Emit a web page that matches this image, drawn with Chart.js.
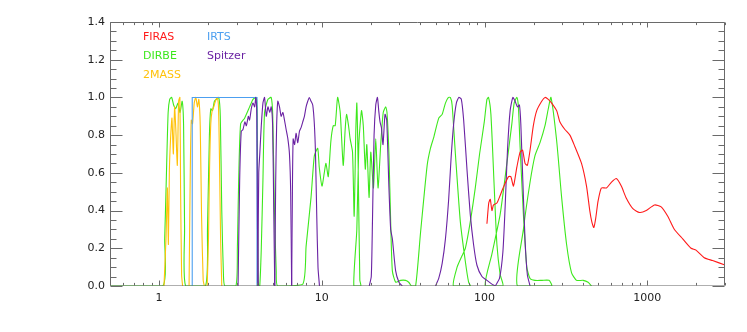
<!DOCTYPE html>
<html>
<head>
<meta charset="utf-8">
<script src="https://cdn.jsdelivr.net/npm/chart.js@4.4.1/dist/chart.umd.min.js"></script>
<style>
  html, body { margin: 0; padding: 0; background: #fff; }
  #c { display: block; }
</style>
</head>
<body>
<canvas id="c" width="747" height="332"></canvas>
<script>
// wavelength (micron) vs relative transmission

const firas = [
    [103.4, 0.33], [106.1, 0.44], [108.4, 0.46], [111.0, 0.40], [113.5, 0.43], [119.1, 0.44],
    [124.7, 0.48], [130.0, 0.52], [140.3, 0.58], [145.0, 0.58], [150.5, 0.53], [157.9, 0.63],
    [165.3, 0.71], [171.2, 0.72], [177.4, 0.65], [183.2, 0.64], [190.3, 0.72], [199.4, 0.85],
    [209.2, 0.93], [224.4, 0.98], [235.1, 1.0], [246.3, 0.99], [258.4, 0.97], [277.3, 0.93],
    [290.4, 0.87], [311.6, 0.83], [334.4, 0.80], [358.6, 0.74], [394.2, 0.65], [423, 0.53],
    [443, 0.40], [456, 0.34], [469, 0.31], [482, 0.36], [498, 0.45], [522, 0.52], [561, 0.52],
    [601, 0.55], [645, 0.57], [692, 0.53], [743, 0.465], [815, 0.41], [896, 0.39], [985, 0.40],
    [1107, 0.43], [1216, 0.42], [1335, 0.37], [1467, 0.30], [1649, 0.25], [1856, 0.20],
    [1991, 0.19], [2238, 0.15], [2516, 0.135], [2967, 0.113], [3000, 0.112]
];

const irts = [[1.6, 0], [1.6, 1.0], [4.0, 1.0], [4.0, 0]];

const tmassJ = [
    [1.073, 0], [1.104, 0.25], [1.126, 0.52], [1.142, 0.22], [1.158, 0.61], [1.179, 0.79],
    [1.201, 0.89], [1.225, 0.70], [1.247, 0.95], [1.27, 0.82], [1.296, 0.64], [1.32, 0.98],
    [1.344, 1.0], [1.357, 0.52], [1.377, 0.06], [1.396, 0]
];
const tmassH = [
    [1.53, 0], [1.556, 0.6], [1.578, 0.88], [1.607, 0.86], [1.646, 0.97], [1.683, 1.0],
    [1.723, 0.95], [1.757, 0.99], [1.792, 0.85], [1.825, 0.38], [1.868, 0.03], [1.90, 0]
];
const tmassK = [
    [1.977, 0], [2.014, 0.25], [2.043, 0.61], [2.08, 0.86], [2.12, 0.93], [2.17, 0.95],
    [2.22, 0.98], [2.275, 1.0], [2.32, 0.95], [2.35, 0.70], [2.39, 0.25], [2.43, 0]
];

const dirbe1 = [
    [1.054, 0], [1.084, 0.25], [1.115, 0.65], [1.138, 0.92], [1.163, 0.99], [1.196, 1.0],
    [1.23, 0.96], [1.265, 0.94], [1.31, 0.97], [1.347, 0.92], [1.387, 0.98], [1.416, 0.85],
    [1.436, 0.3], [1.457, 0]
];
const dirbe2 = [
    [1.93, 0], [1.985, 0.3], [2.04, 0.8], [2.08, 0.94], [2.13, 0.93], [2.19, 0.98],
    [2.25, 0.99], [2.33, 1.0], [2.38, 0.9], [2.43, 0.4], [2.49, 0.05], [2.54, 0]
];
const dirbe3 = [
    [2.967, 0], [3.03, 0.2], [3.086, 0.56], [3.173, 0.86], [3.357, 0.89], [3.603, 0.95],
    [3.779, 0.99], [3.959, 1.0], [4.015, 0.92], [4.06, 0.03], [4.10, 0]
];
const dirbe4 = [
    [4.16, 0], [4.25, 0.2], [4.35, 0.56], [4.45, 0.92], [4.67, 0.99], [4.89, 1.0],
    [5.0, 0.9], [5.12, 0.4], [5.25, 0.08], [5.36, 0]
];
const dirbe5 = [
    [7.64, 0.01], [8.01, 0.21], [8.59, 0.47], [9.0, 0.69], [9.44, 0.73], [9.65, 0.63],
    [10.03, 0.53], [10.36, 0.60], [10.61, 0.65], [10.96, 0.58], [11.38, 0.77], [11.76, 0.85],
    [12.09, 0.85], [12.51, 1.0], [12.98, 0.92], [13.54, 0.64], [13.92, 0.83], [14.2, 0.91],
    [14.6, 0.85], [14.94, 0.78], [15.45, 0.71], [15.81, 0.37], [16.19, 0.83], [16.42, 0.97],
    [16.72, 0.65], [17.13, 0.03], [17.37, 0]
];
const dirbe6 = [
    [15.74, 0], [16.42, 0.3], [16.89, 0.75], [17.54, 0.93], [17.99, 0.85], [18.51, 0.62],
    [18.91, 0.75], [19.52, 0.47], [20.0, 0.71], [20.77, 0.52], [21.46, 0.78], [22.16, 0.52],
    [23.02, 0.75], [23.85, 0.92], [24.7, 0.95], [25.16, 0.92], [25.86, 0.7], [26.5, 0.34],
    [27.14, 0.08], [28.43, 0.02], [30.5, 0.03], [32.7, 0.03], [34.2, 0.02], [35.6, 0]
];
const dirbe7 = [
    [37.7, 0], [40.4, 0.28], [44.4, 0.64], [46.5, 0.73], [48.8, 0.79], [52.3, 0.89],
    [54.9, 0.91], [57.5, 0.97], [60.0, 1.0], [61.7, 1.0], [63.2, 0.96], [66.2, 0.70],
    [71.0, 0.34], [76.2, 0.13], [79.8, 0.02], [81.7, 0]
];
const dirbe8 = [
    [64.4, 0], [67.8, 0.10], [72.7, 0.16], [76.2, 0.20], [81.7, 0.34], [87.7, 0.52],
    [93.2, 0.70], [99.6, 0.87], [103.4, 0.99], [105.8, 1.0], [109.4, 0.91], [114.7, 0.52],
    [119.1, 0.22], [124.7, 0.06], [129.6, 0]
];
const dirbe9 = [
    [101.0, 0], [111.0, 0.17], [124.7, 0.38], [137.1, 0.65], [147.1, 0.86], [152.0, 0.97],
    [157.9, 1.0], [161.4, 0.95], [165.3, 0.74], [173.2, 0.38], [181.7, 0.10], [190.3, 0.04],
    [203.9, 0.03], [225.4, 0.03], [248.7, 0.03], [258.4, 0]
];
const dirbe10 = [
    [159.2, 0], [173.2, 0.3], [190.3, 0.55], [203.9, 0.69], [219.1, 0.76], [235.1, 0.85],
    [246.3, 0.94], [255.9, 1.0], [277.3, 0.77], [297.5, 0.47], [319.2, 0.22], [342.4, 0.07],
    [367.4, 0.03], [403.2, 0.03], [432.6, 0.02], [454, 0]
];

const irac1 = [
    [3.06, 0], [3.13, 0.56], [3.2, 0.82], [3.28, 0.83], [3.37, 0.87], [3.44, 0.85],
    [3.54, 0.9], [3.60, 0.88], [3.69, 0.94], [3.78, 0.97], [3.87, 0.95], [3.93, 1.0],
    [3.99, 0.9], [4.03, 0.3], [4.07, 0]
];
const irac2 = [
    [4.04, 0], [4.10, 0.6], [4.16, 0.7], [4.25, 0.85], [4.35, 0.97], [4.45, 1.0],
    [4.56, 0.9], [4.67, 0.95], [4.79, 0.92], [4.89, 0.95], [4.99, 0.85], [5.07, 0.4], [5.14, 0]
];
const irac3 = [
    [5.14, 0], [5.21, 0.55], [5.28, 0.85], [5.37, 0.98], [5.50, 0.95], [5.63, 0.9],
    [5.77, 0.92], [5.90, 0.88], [6.04, 0.83], [6.19, 0.78], [6.33, 0.70], [6.44, 0.5], [6.53, 0]
];
const irac4 = [
    [6.53, 0], [6.60, 0.5], [6.67, 0.78], [6.81, 0.75], [6.95, 0.81], [7.12, 0.76],
    [7.29, 0.82], [7.46, 0.84], [7.64, 0.87], [7.82, 0.9], [8.01, 0.95], [8.20, 0.98],
    [8.38, 1.0], [8.59, 0.98], [8.80, 0.96], [9.0, 0.86], [9.15, 0.7], [9.31, 0.38],
    [9.48, 0.1], [9.68, 0]
];
const mips24 = [
    [19.57, 0], [20.14, 0.05], [20.48, 0.34], [20.95, 0.80], [21.46, 0.96], [21.98, 1.0],
    [22.38, 0.93], [22.8, 0.87], [23.25, 0.84], [23.78, 0.75], [24.46, 0.91], [25.05, 0.88],
    [25.86, 0.52], [26.5, 0.3], [27.14, 0.25], [28.43, 0.08], [29.79, 0.02], [31.25, 0]
];
const mips70 = [
    [49.9, 0], [52.3, 0.04], [54.9, 0.12], [57.5, 0.25], [60.2, 0.46], [62.3, 0.68],
    [64.6, 0.86], [67.1, 0.97], [69.5, 1.0], [72.0, 0.99], [74.4, 0.88], [78.1, 0.61],
    [81.7, 0.38], [85.6, 0.22], [89.8, 0.11], [96.4, 0.05], [103.4, 0.03], [111.0, 0.01], [116.3, 0]
];
const mips160 = [
    [116.3, 0], [123.5, 0.04], [129.6, 0.18], [133.8, 0.42], [138.3, 0.72], [143.6, 0.93],
    [149.2, 1.0], [154.1, 0.98], [159.2, 0.95], [163.7, 0.96], [167.0, 0.86], [171.8, 0.56],
    [177.4, 0.24], [183.2, 0.06], [190.3, 0]
];

const xTickValues = [1, 10, 100, 1000];
const yTickValues = [0, 0.2, 0.4, 0.6, 0.8, 1.0, 1.2, 1.4];

const colors = {
    FIRAS: "#ff1a1a",
    DIRBE: "#3de81c",
    "2MASS": "#ffc20a",
    IRTS: "#4c9ff0",
    Spitzer: "#6a22a3"
};

function band(data, color, tension = 0.2) {
    return {
        data: data,
        borderColor: color,
        borderWidth: 1.1,
        pointRadius: 0,
        tension: tension,
        fill: false
    };
}

// DIRBE sits on the zero line across the left half of the plot
const dirbeAll = [[0.5, 0]].concat(dirbe1, dirbe2, dirbe3, dirbe4, dirbe5,
    dirbe6, dirbe7, dirbe8, dirbe9, dirbe10);

// first dataset is drawn on top
const datasets = [
    band(firas, colors.FIRAS),
    band(irac1, colors.Spitzer),
    band(irac2, colors.Spitzer),
    band(irac3, colors.Spitzer),
    band(irac4, colors.Spitzer),
    band(mips24, colors.Spitzer),
    band(mips70, colors.Spitzer),
    band(mips160, colors.Spitzer),
    band(irts, colors.IRTS, 0),
    band(tmassJ, colors["2MASS"]),
    band(tmassH, colors["2MASS"]),
    band(tmassK, colors["2MASS"]),
    band(dirbeAll, colors.DIRBE)
];

const FONT = "'DejaVu Sans', 'Liberation Sans', sans-serif";

// IDL style box: ticks point inwards on all four sides
const framePlugin = {
    id: "frame",
    afterDatasetsDraw(chart) {
        const { ctx, chartArea: a, scales } = chart;
        const x = scales.x, y = scales.y;
        const L = Math.round(a.left) + 0.5, R = Math.round(a.right) - 0.5;
        const T = Math.round(a.top) + 0.5, B = Math.round(a.bottom) - 0.5;
        ctx.save();
        ctx.lineWidth = 1;
        ctx.strokeStyle = "#6a6a6a";
        ctx.beginPath();
        ctx.moveTo(L, B); ctx.lineTo(L, T); ctx.lineTo(R, T); ctx.lineTo(R, B);

        // x ticks
        for (let e = -1; e <= 3; e++) {
            for (let m = 1; m <= 9; m++) {
                const v = m * Math.pow(10, e);
                if (v < x.min - 1e-9 || v > x.max + 1e-9) continue;
                const px = Math.round(x.getPixelForValue(v)) + 0.5;
                const len = m === 1 ? 5 : 2.6;
                ctx.moveTo(px, B); ctx.lineTo(px, B - len);
                ctx.moveTo(px, T); ctx.lineTo(px, T + len);
            }
        }
        // y ticks, minor every 0.05
        for (let i = 0; i <= 28; i++) {
            const v = i * 0.05;
            const py = Math.round(y.getPixelForValue(v)) + 0.5;
            const len = i % 4 === 0 ? 12 : 6;
            ctx.moveTo(L, py); ctx.lineTo(L + len, py);
            ctx.moveTo(R, py); ctx.lineTo(R - len, py);
        }
        ctx.stroke();

        // bottom edge lets the green zero line show through a bit
        ctx.strokeStyle = "rgba(95,95,95,0.5)";
        ctx.beginPath();
        ctx.moveTo(L, B); ctx.lineTo(R, B);
        ctx.stroke();
        ctx.restore();
    }
};

const legendPlugin = {
    id: "legendText",
    afterDraw(chart) {
        const { ctx, chartArea: a } = chart;
        const items = [
            ["FIRAS", 0, 0], ["DIRBE", 0, 1], ["2MASS", 0, 2],
            ["IRTS", 1, 0], ["Spitzer", 1, 1]
        ];
        ctx.save();
        ctx.font = "11px " + FONT;
        ctx.textBaseline = "middle";
        ctx.textAlign = "left";
        items.forEach(([name, col, row]) => {
            ctx.fillStyle = colors[name];
            ctx.fillText(name, a.left + 33 + col * 64, a.top + 15.5 + row * 19);
        });
        ctx.restore();
    }
};

new Chart(document.getElementById("c"), {
    type: "line",
    data: { datasets },
    options: {
        responsive: false,
        animation: false,
        events: [],
        layout: { padding: { top: 22, right: 22, left: 0, bottom: 0 } },
        plugins: {
            legend: { display: false },
            tooltip: { enabled: false }
        },
        scales: {
            x: {
                type: "logarithmic",
                min: 0.5,
                max: 3000,
                grid: { display: false, drawTicks: false },
                border: { display: false },
                afterBuildTicks: (axis) => {
                    axis.ticks = xTickValues.map(v => ({ value: v }));
                },
                afterFit: (axis) => { axis.height = 46; },
                ticks: {
                    autoSkip: false,
                    maxRotation: 0,
                    padding: 6,
                    color: "#222",
                    font: { family: FONT, size: 11 },
                    callback: (v) => String(v)
                }
            },
            y: {
                type: "linear",
                min: 0,
                max: 1.4,
                grid: { display: false, drawTicks: false },
                border: { display: false },
                afterBuildTicks: (axis) => {
                    axis.ticks = yTickValues.map(v => ({ value: v }));
                },
                afterFit: (axis) => { axis.width = 110; },
                ticks: {
                    autoSkip: false,
                    padding: 5,
                    color: "#222",
                    font: { family: FONT, size: 11 },
                    callback: (v) => Number(v).toFixed(1)
                }
            }
        }
    },
    plugins: [framePlugin, legendPlugin]
});
</script>
</body>
</html>
